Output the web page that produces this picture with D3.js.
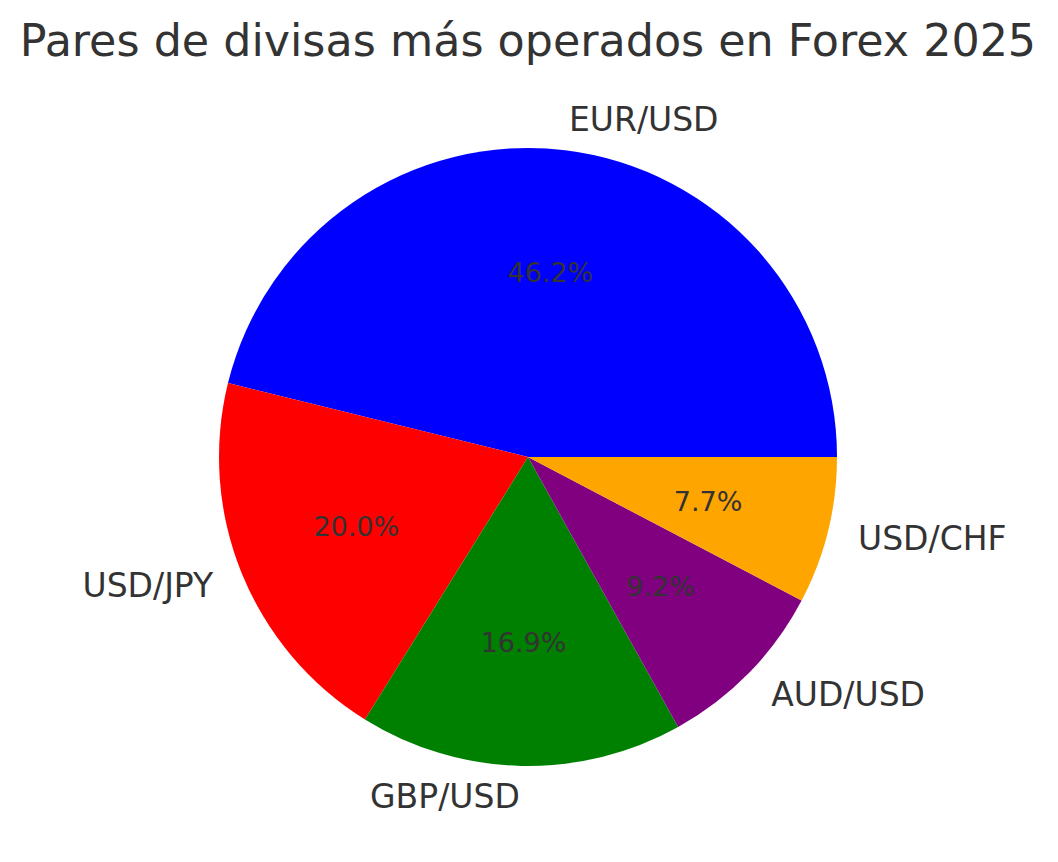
<!DOCTYPE html>
<html>
<head>
<meta charset="utf-8">
<script src="https://cdn.jsdelivr.net/npm/d3@7"></script>
<style>
  body { margin: 0; background: #fff; }
  text { font-family: "DejaVu Sans", sans-serif; fill: #333333; }
</style>
</head>
<body>
<div id="chart"></div>
<script>
// data
var pairs = ["EUR/USD", "USD/JPY", "GBP/USD", "AUD/USD", "USD/CHF"];
var volumes = [30, 13, 11, 6, 5];
var sliceColors = ["blue", "red", "green", "purple", "orange"];

var width = 1058,
    height = 862,
    cx = 528,
    cy = 457,
    radius = 309;

var svg = d3.select("#chart")
    .append("svg")
    .attr("width", width)
    .attr("height", height);

svg.append("text")
    .attr("x", cx)
    .attr("y", 56)
    .attr("text-anchor", "middle")
    .style("font-size", "44.4px")
    .text("Pares de divisas más operados en Forex 2025");

var g = svg.append("g")
    .attr("transform", "translate(" + cx + "," + cy + ")");

var total = d3.sum(volumes);
var data = pairs.map(function (p, i) {
    return { pair: p, value: volumes[i], color: sliceColors[i] };
});

// matplotlib style: start at 3 o'clock, go counterclockwise
var pie = d3.pie()
    .sort(null)
    .value(d => d.value)
    .startAngle(Math.PI / 2)
    .endAngle(Math.PI / 2 - 2 * Math.PI);

var arcs = pie(data);

var arc = d3.arc()
    .innerRadius(0)
    .outerRadius(radius);

g.selectAll("path")
    .data(arcs)
    .join("path")
    .attr("d", arc)
    .attr("fill", d => d.data.color);

function pos(d, k) {
    var a = (d.startAngle + d.endAngle) / 2;
    return [Math.sin(a) * radius * k, -Math.cos(a) * radius * k];
}

// outer labels
g.selectAll("text.label")
    .data(arcs)
    .join("text")
    .attr("class", "label")
    .attr("x", d => pos(d, 1.1)[0])
    .attr("y", d => pos(d, 1.1)[1])
    .attr("dy", "0.35em")
    .attr("text-anchor", d => pos(d, 1.1)[0] > 0 ? "start" : "end")
    .style("font-size", "33px")
    .text(d => d.data.pair);

// percentage labels
var fmt = d3.format(".1f");
g.selectAll("text.pct")
    .data(arcs)
    .join("text")
    .attr("class", "pct")
    .attr("x", d => pos(d, 0.6)[0])
    .attr("y", d => pos(d, 0.6)[1])
    .attr("dy", "0.35em")
    .attr("text-anchor", "middle")
    .style("font-size", "27px")
    .text(d => fmt(d.data.value / total * 100) + "%");
</script>
</body>
</html>
